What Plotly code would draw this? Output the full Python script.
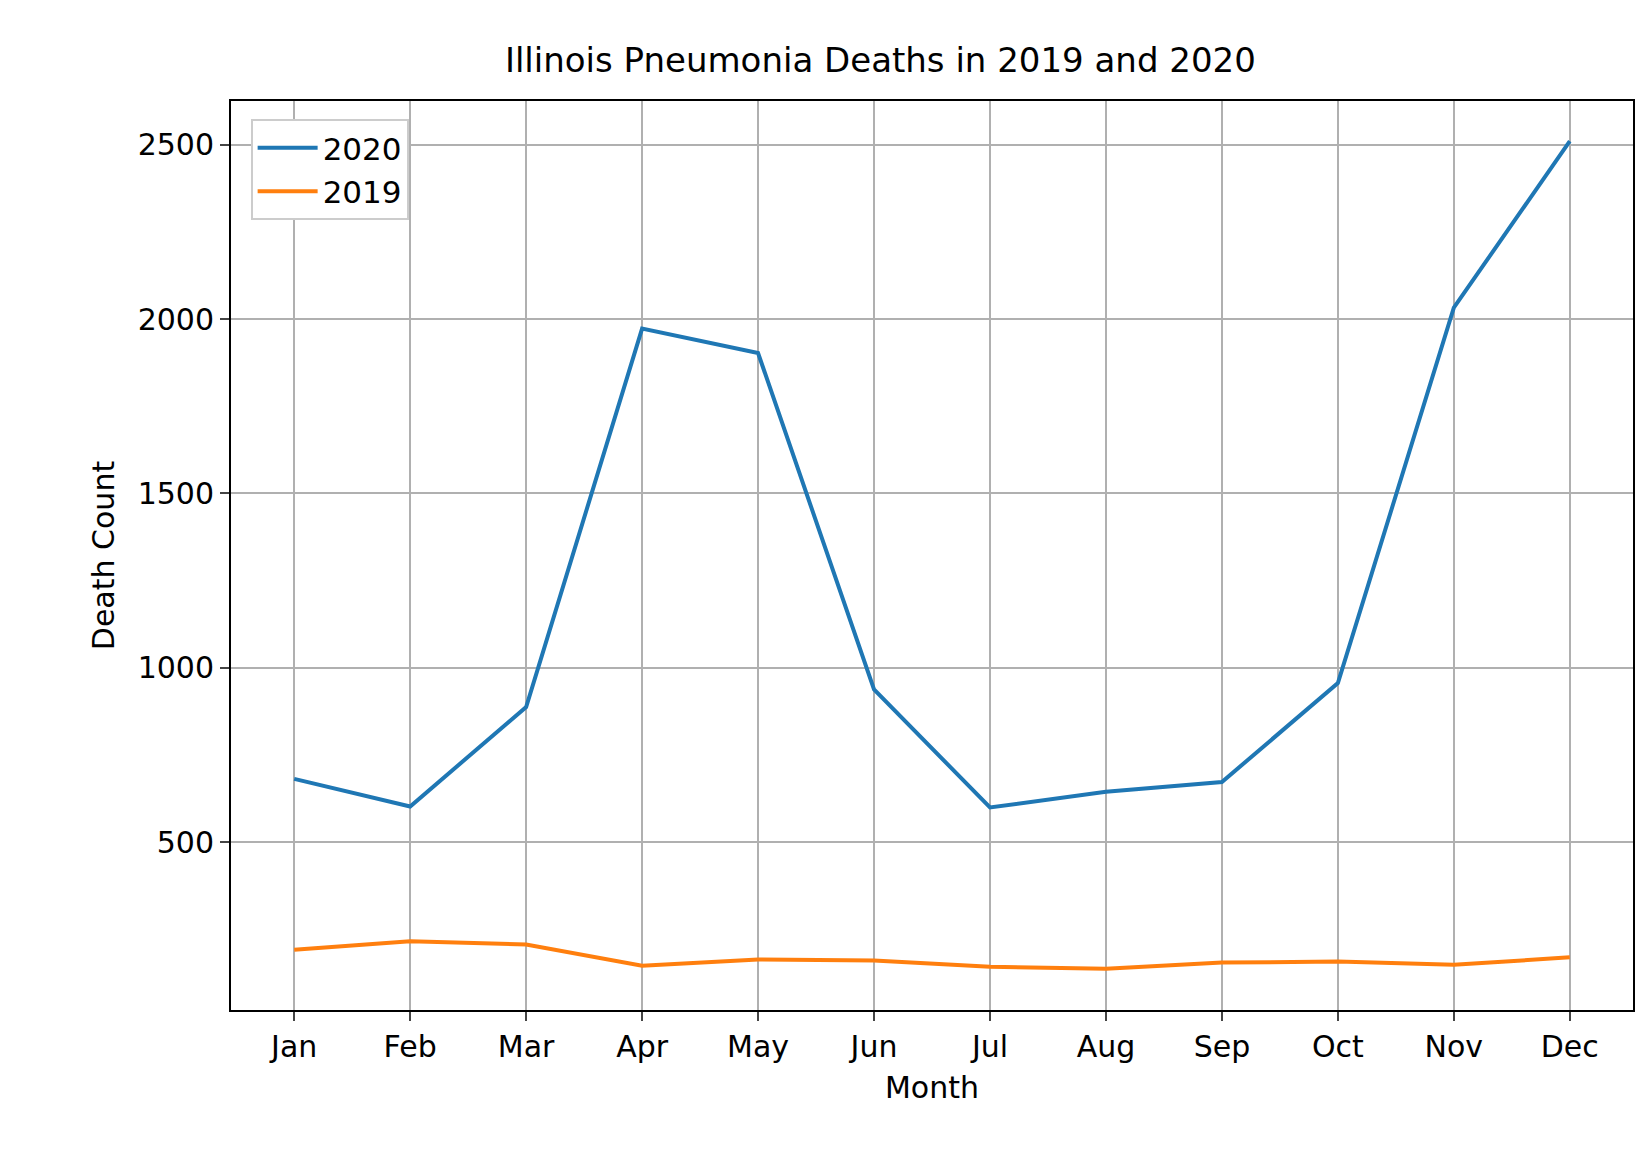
import plotly.graph_objects as go

months = ["Jan","Feb","Mar","Apr","May","Jun","Jul","Aug","Sep","Oct","Nov","Dec"]
deaths_2020 = [681, 602, 887, 1973, 1903, 938, 599, 644, 672, 956, 2033, 2511]
deaths_2019 = [191, 215, 206, 145, 163, 160, 142, 136, 154, 157, 148, 169]

fig = go.Figure()
fig.add_trace(go.Scatter(x=list(range(12)), y=deaths_2020, mode="lines", name="2020",
                         line=dict(color="#1f77b4", width=4)))
fig.add_trace(go.Scatter(x=list(range(12)), y=deaths_2019, mode="lines", name="2019",
                         line=dict(color="#ff7f0e", width=4)))
font = dict(family="DejaVu Sans", size=30, color="black")
fig.update_layout(
    width=1646, height=1154, plot_bgcolor="white", paper_bgcolor="white",
    margin=dict(l=223, r=21, t=93, b=152), font=font,
    title=dict(text="Illinois Pneumonia Deaths in 2019 and 2020", x=0.53, xanchor="center",
               y=0.955, yanchor="middle", font=dict(family="DejaVu Sans", size=34)),
    legend=dict(x=0.014, y=0.98, xanchor="left", yanchor="top", bordercolor="#cccccc",
                borderwidth=2, bgcolor="white", font=dict(size=31), itemwidth=60,
                tracegroupgap=10),
    showlegend=True,
)
fig.update_xaxes(tickvals=list(range(12)), ticktext=months, range=[-0.545, 11.545],
                 showgrid=True, gridcolor="#b0b0b0", gridwidth=1.5, showline=True, linecolor="black",
                 linewidth=2, mirror=True, ticks="outside", ticklen=9, tickwidth=2,
                 title=dict(text="Month", font=dict(size=30), standoff=14), zeroline=False)
fig.update_yaxes(tickvals=[500,1000,1500,2000,2500], range=[18, 2626],
                 showgrid=True, gridcolor="#b0b0b0", gridwidth=1.5, showline=True, linecolor="black",
                 linewidth=2, mirror=True, ticks="outside", ticklen=9, tickwidth=2,
                 title=dict(text="Death Count", font=dict(size=30), standoff=14), zeroline=False)
fig.write_html("out.html")
